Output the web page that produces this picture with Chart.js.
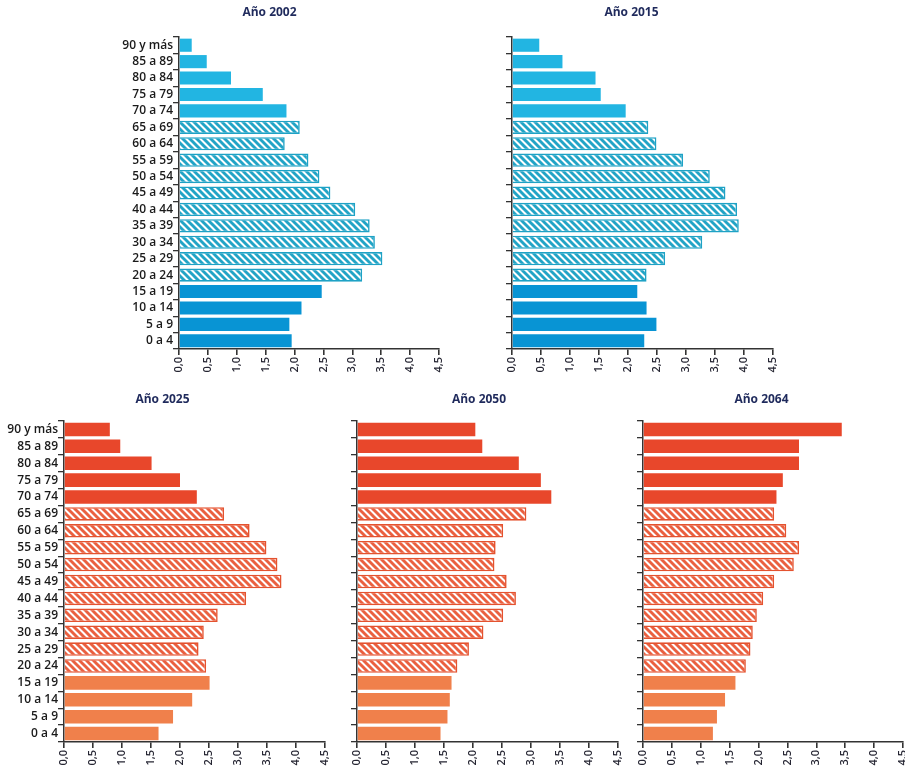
<!DOCTYPE html>
<html lang="es">
<head>
<meta charset="utf-8">
<title>Pirámides de población</title>
<script src="https://cdn.jsdelivr.net/npm/chart.js@4.4.1/dist/chart.umd.min.js"></script>
<style>
body{margin:0;background:#fff;overflow:hidden;width:905px;height:773px;position:relative;}
canvas{position:absolute;}
#p2002{left:100px;top:0;}
#p2015{left:490px;top:0;}
#p2025{left:0;top:385px;}
#p2050{left:340px;top:385px;}
#p2064{left:620px;top:385px;}
</style>
</head>
<body>
<canvas id="p2002" width="420" height="385"></canvas>
<canvas id="p2015" width="310" height="385"></canvas>
<canvas id="p2025" width="394" height="388"></canvas>
<canvas id="p2050" width="294" height="388"></canvas>
<canvas id="p2064" width="306" height="388"></canvas>
<script>
// grupos de edad, de arriba hacia abajo
const edades = ['90 y más','85 a 89','80 a 84','75 a 79','70 a 74','65 a 69','60 a 64','55 a 59','50 a 54','45 a 49',
                '40 a 44','35 a 39','30 a 34','25 a 29','20 a 24','15 a 19','10 a 14','5 a 9','0 a 4'];
// tramo de cada grupo: mayores (70+), activos (20-69, rayado), jóvenes (0-19)
const tramos = ['mayor','mayor','mayor','mayor','mayor',
                'activo','activo','activo','activo','activo','activo','activo','activo','activo','activo',
                'joven','joven','joven','joven'];

// porcentaje de la población en cada grupo
const v2002 = [0.22,0.48,0.90,1.45,1.86,2.09,1.83,2.24,2.43,2.62,3.05,3.30,3.39,3.52,3.17,2.47,2.12,1.91,1.95];
const v2015 = [0.47,0.87,1.44,1.53,1.96,2.35,2.49,2.95,3.41,3.68,3.88,3.91,3.28,2.64,2.32,2.16,2.32,2.49,2.28];
const v2025 = [0.79,0.97,1.51,2.00,2.29,2.76,3.20,3.49,3.68,3.75,3.14,2.65,2.41,2.32,2.45,2.51,2.21,1.88,1.63];
const v2050 = [2.04,2.16,2.79,3.17,3.35,2.92,2.52,2.39,2.37,2.58,2.74,2.52,2.18,1.93,1.73,1.63,1.60,1.56,1.44];
const v2064 = [3.44,2.70,2.70,2.42,2.31,2.27,2.48,2.70,2.61,2.27,2.08,1.97,1.90,1.86,1.78,1.60,1.42,1.28,1.21];

const escalaX = {min: 0, max: 4.5, paso: 0.5};

const fuente = "'Open Sans', 'DejaVu Sans', sans-serif";

const azules = {mayor: '#22b5e2', raya: '#22a4c6', borde: '#1ea2c5', joven: '#0894d4'};
const rojos  = {mayor: '#e8472b', raya: '#ea6040', borde: '#e4522f', joven: '#f0804b'};

function rayado(color){
    const t = document.createElement('canvas');
    t.width = 7; t.height = 7;
    const g = t.getContext('2d');
    g.fillStyle = '#fff';
    g.fillRect(0, 0, 7, 7);
    g.strokeStyle = color;
    g.lineWidth = 2.9;
    g.beginPath();
    for (let k = -1; k <= 1; k++){
        g.moveTo(k*7 - 1, -1);
        g.lineTo(k*7 + 8, 8);
    }
    g.stroke();
    return g.createPattern(t, 'repeat');
}

function piramide(id, anio, valores, pal, caja){
    const raya = rayado(pal.raya);
    const fondo = tramos.map(t => t === 'activo' ? raya : pal[t]);
    const bordes = tramos.map(t => t === 'activo' ? pal.borde : pal[t]);
    const grosor = tramos.map(t => t === 'activo' ? 1.6 : 0);

    return new Chart(document.getElementById(id), {
        type: 'bar',
        data: {
            labels: edades,
            datasets: [{
                data: valores,
                backgroundColor: fondo,
                borderColor: bordes,
                borderWidth: grosor,
                barPercentage: 0.8,
                categoryPercentage: 1
            }]
        },
        options: {
            indexAxis: 'y',
            responsive: false,
            animation: false,
            layout: {padding: {right: caja.derecha}},
            plugins: {
                legend: {display: false},
                tooltip: {enabled: false},
                title: {
                    display: true,
                    text: 'Año ' + anio,
                    color: '#1f2a5c',
                    font: {family: fuente, size: 12, weight: 'bold'},
                    padding: {top: caja.tituloArriba, bottom: caja.tituloAbajo}
                }
            },
            scales: {
                x: {
                    min: escalaX.min,
                    max: escalaX.max,
                    afterFit: s => { s.height = caja.altoX; },
                    border: {display: true, color: '#333', width: 1.5},
                    grid: {drawOnChartArea: false, drawTicks: true, tickLength: 6, color: '#333', lineWidth: 1.6},
                    ticks: {
                        stepSize: escalaX.paso,
                        autoSkip: false,
                        minRotation: 90,
                        maxRotation: 90,
                        padding: 2,
                        color: '#262633',
                        font: {family: fuente, size: 11, weight: '600'},
                        callback: v => v.toFixed(1).replace('.', ',')
                    }
                },
                y: {
                    afterFit: s => { s.width = caja.anchoY; },
                    border: {display: true, color: '#333', width: 1.5},
                    grid: {drawOnChartArea: false, drawTicks: true, tickLength: 6, color: '#333', lineWidth: 1.3},
                    ticks: {
                        display: caja.etiquetas,
                        autoSkip: false,
                        padding: 0,
                        color: '#1a1a1a',
                        font: {family: fuente, size: 12, weight: '600'}
                    }
                }
            }
        }
    });
}

const filaArriba = {tituloArriba: 5, tituloAbajo: 17.6, altoX: 36};
const filaAbajo  = {tituloArriba: 7.8, tituloAbajo: 13.8, altoX: 31};

piramide('p2002', 2002, v2002, azules, Object.assign({anchoY: 79, derecha: 81, etiquetas: true}, filaArriba));
piramide('p2015', 2015, v2015, azules, Object.assign({anchoY: 22, derecha: 27, etiquetas: false}, filaArriba));
piramide('p2025', 2025, v2025, rojos, Object.assign({anchoY: 64, derecha: 69, etiquetas: true}, filaAbajo));
piramide('p2050', 2050, v2050, rojos, Object.assign({anchoY: 17, derecha: 16, etiquetas: false}, filaAbajo));
piramide('p2064', 2064, v2064, rojos, Object.assign({anchoY: 23, derecha: 23, etiquetas: false}, filaAbajo));
</script>
</body>
</html>
